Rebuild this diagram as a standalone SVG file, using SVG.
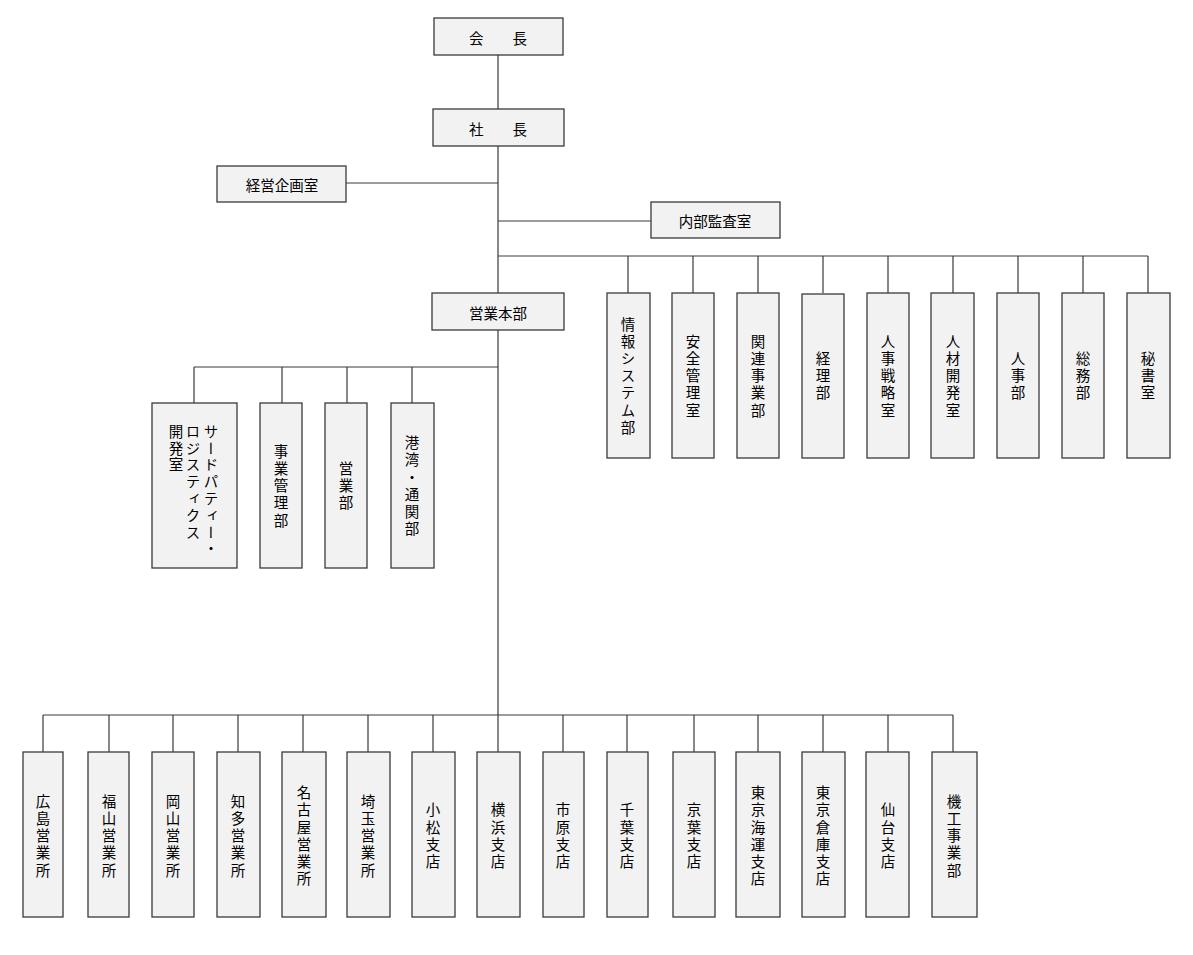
<svg xmlns="http://www.w3.org/2000/svg" width="1193" height="955" viewBox="0 0 1193 955">
<style>
.box{fill:#f2f2f2;stroke:#3a3a3a;stroke-width:1.3}
.ln{stroke:#3a3a3a;stroke-width:1.2;fill:none}
.h{font-family:"Noto Sans CJK JP","Noto Sans CJK SC",sans-serif;font-size:14.5px;fill:#000;text-anchor:middle;dominant-baseline:central}
.v{font-family:"Noto Sans CJK JP","Noto Sans CJK SC",sans-serif;font-size:14.5px;fill:#000;text-anchor:middle;writing-mode:vertical-rl;letter-spacing:2.7px}
.vs{font-family:"Noto Sans CJK JP","Noto Sans CJK SC",sans-serif;font-size:14.5px;fill:#000;text-anchor:start;writing-mode:vertical-rl;letter-spacing:2.3px}
</style>
<rect width="1193" height="955" fill="#fff"/>
<g id="connectors">
<path class="ln" d="M498 55V109 M498 146V752 M346 183H498 M498 221H651"/>
<path class="ln" d="M498 256H1148 M628 256V293 M693 256V293 M758 256V293 M823 256V293 M888 256V293 M953 256V293 M1018 256V293 M1083 256V293 M1148 256V293"/>
<path class="ln" d="M194 367H498 M194 367V403 M282 367V403 M347 367V403 M412 367V403"/>
<path class="ln" d="M43 715H953 M43 715V752 M109 715V752 M173 715V752 M238 715V752 M303 715V752 M368 715V752 M433 715V752 M563 715V752 M627 715V752 M694 715V752 M758 715V752 M823 715V752 M888 715V752 M953 715V752"/>
</g>
<g id="kaicho"><rect class="box" x="434" y="18" width="129" height="37"/><text class="h" x="498" y="37">会　　長</text></g>
<g id="shacho"><rect class="box" x="433" y="109" width="131" height="37"/><text class="h" x="498" y="128">社　　長</text></g>
<g id="keiei"><rect class="box" x="217" y="166" width="129" height="36"/><text class="h" x="282" y="184">経営企画室</text></g>
<g id="naibu"><rect class="box" x="651" y="202" width="129" height="36"/><text class="h" x="715" y="220">内部監査室</text></g>
<g id="eigyohonbu"><rect class="box" x="432" y="293" width="132" height="37"/><text class="h" x="498" y="312">営業本部</text></g>

<g id="joho"><rect class="box" x="607" y="293" width="43" height="165"/><text class="v" x="628" y="377">情報システム部</text></g>
<g id="anzen"><rect class="box" x="672" y="293" width="42" height="165"/><text class="v" x="693" y="377">安全管理室</text></g>
<g id="kanren"><rect class="box" x="737" y="293" width="42" height="165"/><text class="v" x="758" y="377">関連事業部</text></g>
<g id="keiri"><rect class="box" x="802" y="294" width="42" height="164"/><text class="v" x="823" y="377">経理部</text></g>
<g id="jinjisenryaku"><rect class="box" x="867" y="293" width="42" height="165"/><text class="v" x="888" y="377">人事戦略室</text></g>
<g id="jinzai"><rect class="box" x="931" y="293" width="43" height="165"/><text class="v" x="953" y="377">人材開発室</text></g>
<g id="jinji"><rect class="box" x="997" y="293" width="42" height="165"/><text class="v" x="1018" y="377">人事部</text></g>
<g id="somu"><rect class="box" x="1062" y="293" width="42" height="165"/><text class="v" x="1083" y="377">総務部</text></g>
<g id="hisho"><rect class="box" x="1127" y="293" width="43" height="165"/><text class="v" x="1148" y="377">秘書室</text></g>

<g id="thirdparty"><rect class="box" x="152" y="403" width="85" height="165"/>
<text class="vs" x="211" y="424">サードパティー・</text>
<text class="vs" x="193" y="424">ロジスティクス</text>
<text class="vs" x="176" y="424">開発室</text></g>
<g id="jigyokanri"><rect class="box" x="260" y="403" width="42" height="165"/><text class="v" x="281" y="487">事業管理部</text></g>
<g id="eigyobu"><rect class="box" x="325" y="403" width="42" height="165"/><text class="v" x="346" y="487">営業部</text></g>
<g id="kowan"><rect class="box" x="391" y="403" width="43" height="165"/><text class="v" x="412" y="487">港湾・通関部</text></g>

<g id="hiroshima"><rect class="box" x="23" y="752" width="40" height="165"/><text class="v" x="43" y="837">広島営業所</text></g>
<g id="fukuyama"><rect class="box" x="88" y="752" width="41" height="165"/><text class="v" x="109" y="837">福山営業所</text></g>
<g id="okayama"><rect class="box" x="152" y="752" width="42" height="165"/><text class="v" x="173" y="837">岡山営業所</text></g>
<g id="chita"><rect class="box" x="217" y="752" width="43" height="165"/><text class="v" x="238" y="837">知多営業所</text></g>
<g id="nagoya"><rect class="box" x="282" y="752" width="44" height="165"/><text class="v" x="304" y="837">名古屋営業所</text></g>
<g id="saitama"><rect class="box" x="347" y="752" width="43" height="165"/><text class="v" x="368" y="837">埼玉営業所</text></g>
<g id="komatsu"><rect class="box" x="412" y="752" width="43" height="165"/><text class="v" x="433" y="837">小松支店</text></g>
<g id="yokohama"><rect class="box" x="477" y="752" width="43" height="165"/><text class="v" x="498" y="837">横浜支店</text></g>
<g id="ichihara"><rect class="box" x="543" y="752" width="41" height="165"/><text class="v" x="563" y="837">市原支店</text></g>
<g id="chiba"><rect class="box" x="607" y="752" width="41" height="165"/><text class="v" x="627" y="837">千葉支店</text></g>
<g id="keiyo"><rect class="box" x="673" y="752" width="42" height="165"/><text class="v" x="694" y="837">京葉支店</text></g>
<g id="tokyokaiun"><rect class="box" x="736" y="752" width="44" height="165"/><text class="v" x="758" y="837">東京海運支店</text></g>
<g id="tokyosoko"><rect class="box" x="802" y="752" width="43" height="165"/><text class="v" x="823" y="837">東京倉庫支店</text></g>
<g id="sendai"><rect class="box" x="866" y="752" width="43" height="165"/><text class="v" x="888" y="837">仙台支店</text></g>
<g id="kiko"><rect class="box" x="932" y="752" width="45" height="165"/><text class="v" x="954" y="837">機工事業部</text></g>
</svg>
